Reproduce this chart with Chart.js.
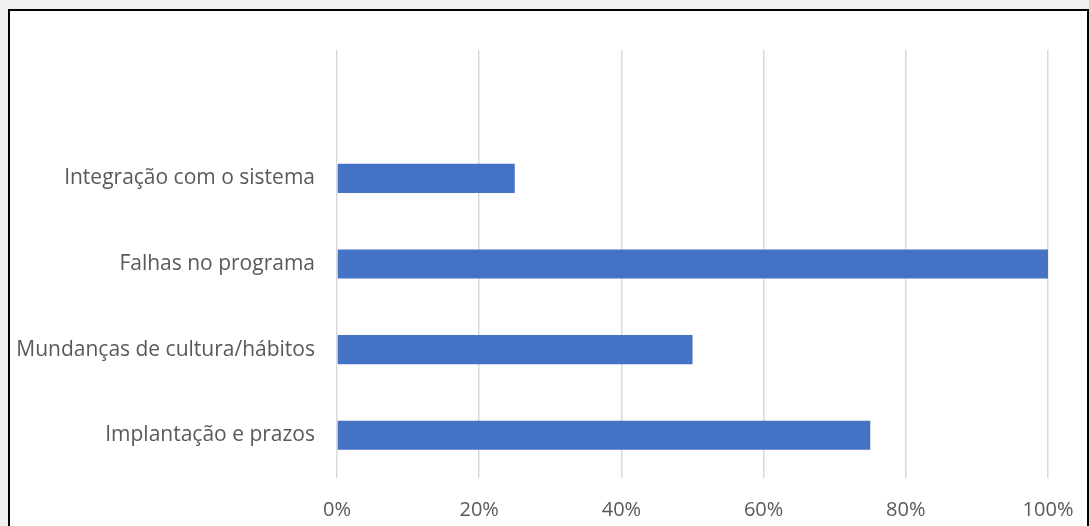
<!DOCTYPE html>
<html>
<head>
<meta charset="utf-8">
<script src="https://cdn.jsdelivr.net/npm/chart.js@4"></script>
<style>
  html, body { margin: 0; padding: 0; background: #f0f0f0; }
  body { width: 1089px; height: 526px; overflow: hidden; position: relative; }
  .frame {
    position: absolute; left: 8px; top: 9px; width: 1077px; height: 520px;
    border: 2px solid #000; border-bottom: none; background: #fff;
  }
  .frame canvas { position: absolute; left: 0; top: 0; }
</style>
</head>
<body>
<div class="frame"><canvas id="chart" width="1077" height="515"></canvas></div>
<script>
// Data (first slot is an empty category, as in the source chart)
const categories = ["", "Integração com o sistema", "Falhas no programa", "Mundanças de cultura/hábitos", "Implantação e prazos"];
const values = [null, 0.25, 1.0, 0.5, 0.75];
const xTicks = [0, 0.2, 0.4, 0.6, 0.8, 1.0];

const FONT = '"Open Sans", "Liberation Sans", sans-serif';
const TEXT = "#595959";

new Chart(document.getElementById("chart"), {
  type: "bar",
  data: {
    labels: categories,
    datasets: [{
      data: values,
      backgroundColor: "#4472C4",
      barPercentage: 0.34,
      categoryPercentage: 1,
    }],
  },
  options: {
    indexAxis: "y",
    responsive: false,
    animation: false,
    layout: { padding: { top: 39, right: 39, left: 0, bottom: 0 } },
    plugins: { legend: { display: false }, tooltip: { enabled: false } },
    scales: {
      x: {
        min: 0,
        max: 1,
        afterBuildTicks: (s) => { s.ticks = xTicks.map((v) => ({ value: v })); },
        afterFit: (s) => { s.height = 48; s.paddingLeft = 0; s.paddingRight = 0; },
        ticks: {
          color: TEXT,
          font: { family: FONT, size: 20 },
          padding: 20,
          maxRotation: 0,
          callback: (v) => Math.round(v * 100) + "%",
        },
        grid: { color: "#d9d9d9", lineWidth: 1.5, drawTicks: false },
        border: { display: false },
      },
      y: {
        afterFit: (s) => { s.width = 327; },
        ticks: {
          color: TEXT,
          font: { family: FONT, size: 21 },
          padding: 22,
        },
        grid: { display: false, drawTicks: false },
        border: { display: false },
      },
    },
  },
});
</script>
</body>
</html>
